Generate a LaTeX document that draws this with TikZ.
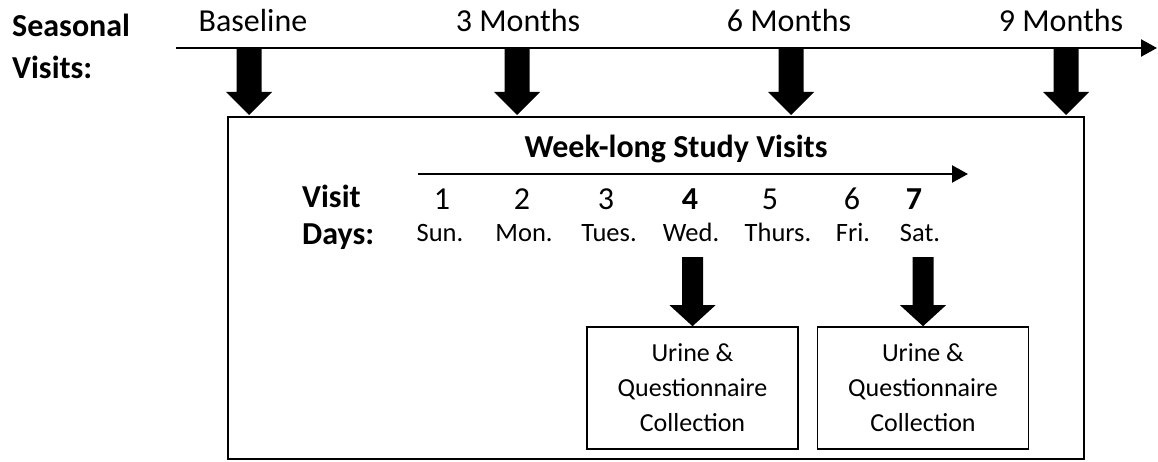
\documentclass[tikz,border=0pt]{standalone}
\usepackage{fontspec}
\setmainfont{Carlito}
\usetikzlibrary{arrows.meta,calc}
\tikzset{
  big/.style={font=\fontsize{32}{36}\selectfont, inner sep=0pt, anchor=base},
  bigb/.style={font=\fontsize{32}{36}\selectfont\bfseries, inner sep=0pt},
  day/.style={font=\fontsize{26.5}{30}\selectfont, inner sep=0pt, anchor=base},
  timeline/.style={line width=2.3pt, -{Triangle[length=16pt,width=17pt]}},
  frame/.style={draw, line width=1.6pt},
  collect/.style={draw, line width=1.6pt, minimum width=211pt, minimum height=122pt,
    align=center, inner sep=0pt, font=\fontsize{26}{35}\selectfont},
}
% top coordinate, tip coordinate, half shaft, half head, head length
\newcommand\fatarrow[5]{%
  \fill ([shift={(-#3,0)}]#1) -- ([shift={(-#3,-#5)}]#2) -- ([shift={(-#4,-#5)}]#2)
    -- (#2) -- ([shift={(#4,-#5)}]#2) -- ([shift={(#3,-#5)}]#2) -- ([shift={(#3,0)}]#1) -- cycle;}
\begin{document}
\begin{tikzpicture}[x=1pt,y=-1pt]
\useasboundingbox (0,0) rectangle (1158,462);
% seasonal timeline
\node[bigb, anchor=base west] (seasonal) at (12,37) {Seasonal};
\node[bigb, anchor=base west] (visits) at (12,79) {Visits:};
\coordinate (t0) at (176,48);
\coordinate (t1) at (1157,48);
\draw[timeline] (t0) -- (t1);
\node[big] (base) at (253,32) {Baseline};
\node[big] (m3) at (518,32) {3 Months};
\node[big] (m6) at (789,32) {6 Months};
\node[big] (m9) at (1061,32) {9 Months};
\foreach \n/\x in {a/249, b/517, c/791, d/1066}{
  \coordinate (\n top) at (\x,48);
  \coordinate (\n tip) at (\x,115);
  \fatarrow{\n top}{\n tip}{12.5}{23}{23}
}
% outer frame
\node[frame, minimum width=856pt, minimum height=342pt, inner sep=0pt, anchor=north west] (week) at (227,116) {};
\node[bigb, anchor=base] (wtitle) at (676,158) {Week-long Study Visits};
\coordinate (w0) at (418,174);
\coordinate (w1) at (968,174);
\draw[timeline] (w0) -- (w1);
\node[bigb, anchor=base west] (visit) at (302,208) {Visit};
\node[bigb, anchor=base west] (days) at (302,244) {Days:};
\node[big] (n1) at (442,210) {1};
\node[big] (n2) at (522,210) {2};
\node[big] (n3) at (606,210) {3};
\node[big, font=\fontsize{32}{36}\selectfont\bfseries] (n4) at (690,210) {4};
\node[big] (n5) at (770,210) {5};
\node[big] (n6) at (852,210) {6};
\node[big, font=\fontsize{32}{36}\selectfont\bfseries] (n7) at (914,210) {7};
\node[day] (d1) at (440,242) {Sun.};
\node[day] (d2) at (524,242) {Mon.};
\node[day] (d3) at (609,242) {Tues.};
\node[day] (d4) at (691,242) {Wed.};
\node[day] (d5) at (778,242) {Thurs.};
\node[day] (d6) at (853,242) {Fri.};
\node[day] (d7) at (920,242) {Sat.};
% collection boxes
\node[collect] (box1) at (692.5,388) {Urine \&\\Questionnaire\\Collection};
\node[collect] (box2) at (923,388) {Urine \&\\Questionnaire\\Collection};
\coordinate (e top) at (692.5,257);
\coordinate (e tip) at (box1.north);
\fatarrow{e top}{e tip}{10.5}{23}{21}
\coordinate (f top) at (923,257);
\coordinate (f tip) at (box2.north);
\fatarrow{f top}{f tip}{10.5}{23}{21}
\end{tikzpicture}
\end{document}
